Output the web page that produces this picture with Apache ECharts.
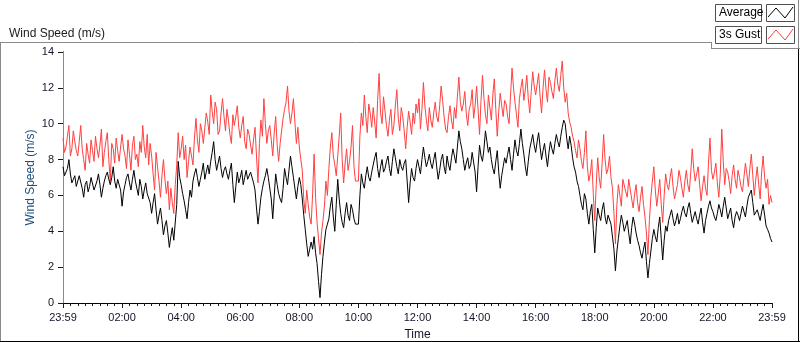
<!DOCTYPE html>
<html><head><meta charset="utf-8">
<script src="https://cdn.jsdelivr.net/npm/echarts@6/dist/echarts.min.js"></script>
<style>html,body{margin:0;padding:0;background:#fff}#c{width:800px;height:342px}</style>
</head><body><div id="c"></div>
<script>
// sampling step of the series (minutes from the start at 23:59)
const stepMinutes = 3;
const xTickLabels = ['23:59','02:00','04:00','06:00','08:00','10:00','12:00','14:00','16:00','18:00','20:00','22:00','23:59'];
const seriesNames = ['Average', '3s Gust'];

const gust = [
 9.2, 8.4, 8.7, 9.3, 9.9, 8.2, 8.6, 9.6, 9.0, 8.5,
 8.2, 9.0, 9.9, 8.6, 8.0, 7.4, 8.9, 8.3, 7.8, 9.1,
 8.5, 7.9, 9.3, 8.6, 8.1, 8.8, 9.7, 7.6, 8.4, 9.0,
 9.5, 8.0, 6.8, 8.9, 8.6, 7.8, 9.2, 8.5, 7.9, 8.7,
 9.4, 8.6, 8.2, 7.5, 9.1, 8.3, 7.4, 8.8, 9.3, 8.0,
 8.3, 7.6, 9.0, 8.4, 9.9, 8.7, 8.1, 9.4, 7.7, 8.9,
 8.2, 7.2, 6.3, 8.4, 7.6, 6.8, 5.9, 7.1, 8.0, 6.9,
 6.1, 6.8, 5.2, 6.4, 5.6, 5.0, 6.6, 7.7, 9.5, 8.1,
 8.6, 9.3, 8.0, 8.8, 7.0, 7.9, 8.7, 8.2, 7.7, 9.2,
 10.3, 9.1, 8.4, 10.0, 9.6, 8.9, 8.8, 10.6, 10.1, 9.4,
 11.6, 10.7, 10.0, 11.2, 10.8, 9.4, 9.6, 10.6, 11.4, 10.4,
 9.6, 10.8, 10.2, 9.4, 8.9, 10.5, 9.9, 10.4, 11.0, 9.8,
 9.2, 9.9, 10.4, 9.0, 8.6, 9.7, 9.4, 8.8, 8.3, 9.1,
 9.8, 8.2, 6.7, 8.9, 10.2, 9.3, 11.4, 10.0, 8.9, 9.6,
 9.9, 9.1, 8.2, 9.5, 10.4, 8.8, 7.9, 8.9, 9.6, 10.3,
 10.8, 11.2, 12.1, 10.7, 10.0, 10.6, 11.4, 10.1, 8.9, 9.8,
 8.7, 8.0, 7.4, 5.8, 5.0, 6.3, 5.5, 4.8, 4.4, 6.1,
 8.3, 5.9, 4.5, 3.6, 2.7, 3.9, 4.6, 5.4, 6.8, 6.0,
 7.5, 8.7, 9.5, 8.2, 7.7, 7.1, 8.2, 9.3, 10.6, 8.0,
 6.7, 7.8, 8.6, 7.4, 7.9, 8.7, 9.9, 7.6, 6.8, 6.8,
 6.8, 9.3, 10.6, 9.9, 11.6, 10.4, 9.5, 11.1, 10.6, 9.8,
 10.9, 10.1, 9.2, 11.3, 12.8, 10.6, 10.0, 11.5, 10.7, 9.9,
 9.3, 10.2, 10.8, 9.4, 9.9, 11.0, 11.9, 10.3, 9.6, 10.9,
 10.4, 9.6, 8.6, 9.8, 10.7, 10.1, 9.4, 10.6, 10.0, 11.1,
 10.6, 11.4, 9.7, 10.8, 12.3, 11.0, 10.2, 9.6, 10.9, 10.2,
 9.8, 10.6, 11.2, 10.4, 10.1, 11.0, 12.1, 11.3, 10.4, 9.7,
 9.5, 10.4, 11.0, 10.2, 9.7, 10.9, 10.3, 11.5, 12.6, 11.2,
 10.7, 11.1, 11.8, 10.6, 9.9, 10.8, 11.1, 11.9, 10.3, 11.0,
 12.1, 10.8, 9.4, 11.3, 12.7, 11.4, 10.5, 10.0, 11.6, 10.9,
 10.2, 11.6, 12.5, 10.8, 9.3, 10.7, 11.7, 11.0, 10.4, 11.3,
 11.1, 10.4, 10.0, 11.6, 13.1, 12.0, 11.2, 10.5, 9.8, 11.4,
 12.0, 12.5, 11.3, 11.9, 12.7, 11.4, 10.6, 11.8, 12.9, 12.1,
 11.6, 12.2, 12.8, 11.5, 10.6, 12.0, 13.0, 11.9, 11.2, 12.6,
 12.3, 11.8, 11.4, 12.4, 13.1, 12.2, 11.8, 12.7, 13.5, 12.0,
 11.2, 11.7, 10.6, 10.1, 9.8, 9.3, 9.0, 8.5, 8.1, 9.1,
 8.6, 7.9, 7.5, 8.4, 9.6, 7.6, 6.8, 7.2, 8.0, 6.1,
 4.6, 6.6, 8.1, 7.0, 6.4, 7.8, 9.4, 8.0, 7.2, 7.5,
 8.2, 7.0, 6.4, 5.0, 3.3, 5.5, 6.6, 6.0, 5.4, 6.9,
 7.0, 6.2, 5.9, 6.9, 6.8, 5.8, 5.3, 6.1, 6.6, 5.6,
 5.1, 5.9, 6.5, 5.5, 4.8, 3.9, 2.7, 4.6, 5.9, 6.8,
 7.6, 6.3, 5.4, 6.1, 6.9, 5.5, 4.5, 6.0, 7.2, 6.6,
 6.3, 7.0, 7.5, 6.5, 5.8, 6.2, 6.6, 7.4, 7.0, 6.4,
 5.9, 6.8, 7.4, 6.6, 6.2, 7.3, 8.6, 7.5, 6.8, 7.2,
 7.6, 6.6, 5.7, 6.5, 7.1, 6.4, 6.0, 7.8, 9.2, 7.4,
 6.9, 7.3, 7.8, 6.7, 5.9, 7.2, 9.7, 7.9, 6.6, 7.5,
 7.3, 6.8, 6.1, 7.1, 7.7, 6.9, 6.4, 7.4, 7.0, 6.5,
 6.2, 7.0, 7.8, 7.2, 6.5, 7.5, 8.3, 7.1, 6.0, 6.9,
 7.6, 6.6, 5.8, 7.3, 8.2, 7.0, 6.4, 6.9, 5.5, 6.0,
 5.6
];

const average = [
 7.6, 7.1, 7.0, 7.5, 8.0, 7.2, 6.7, 6.9, 7.1, 6.5,
 6.6, 7.1, 7.0, 6.4, 5.9, 6.6, 6.8, 6.2, 6.5, 7.0,
 6.9, 6.3, 6.4, 6.8, 7.2, 6.6, 5.9, 6.4, 6.8, 7.1,
 7.3, 6.9, 6.6, 7.0, 7.6, 6.8, 6.4, 6.9, 7.0, 6.3,
 5.4, 6.2, 6.6, 7.0, 7.2, 6.7, 6.3, 6.9, 7.4, 6.8,
 6.4, 6.0, 6.9, 6.5, 5.8, 6.3, 6.7, 6.1, 6.2, 5.6,
 5.0, 5.6, 6.1, 5.2, 4.4, 4.9, 5.3, 4.6, 3.8, 4.3,
 4.6, 3.9, 3.1, 3.7, 4.2, 3.5, 3.6, 5.5, 7.9, 7.0,
 6.6, 6.1, 5.7, 5.2, 4.7, 5.6, 6.3, 5.9, 6.8, 7.2,
 7.5, 7.0, 6.5, 6.9, 7.3, 7.8, 6.9, 7.3, 7.7, 7.2,
 7.9, 8.4, 9.0, 8.0, 7.4, 7.8, 8.2, 7.5, 7.0, 7.4,
 7.6, 7.2, 6.9, 7.4, 7.8, 6.6, 5.6, 6.5, 7.3, 6.7,
 7.0, 7.4, 6.6, 7.0, 7.4, 6.9, 6.8, 7.3, 7.2, 6.7,
 6.3, 5.3, 4.4, 5.1, 5.9, 6.4, 6.8, 7.1, 7.5, 7.0,
 6.9, 5.8, 4.7, 6.0, 7.2, 6.6, 6.1, 5.8, 5.6, 6.4,
 7.5, 7.0, 6.6, 7.4, 8.2, 7.6, 7.0, 6.4, 5.8, 6.5,
 7.0, 6.6, 5.8, 4.9, 4.1, 3.3, 2.6, 3.0, 3.4, 3.0,
 3.7, 2.8, 2.2, 1.2, 0.3, 1.6, 2.6, 3.4, 4.1, 4.4,
 4.7, 5.4, 5.9, 4.8, 4.0, 5.5, 6.9, 5.8, 5.0, 4.5,
 4.2, 5.0, 5.6, 4.9, 4.6, 5.5, 5.2, 4.7, 4.4, 4.4,
 4.4, 6.0, 7.2, 6.7, 6.4, 7.1, 7.6, 7.0, 6.8, 7.3,
 7.7, 8.1, 8.4, 7.5, 7.0, 7.6, 8.0, 7.3, 7.5, 7.9,
 8.2, 7.5, 7.1, 7.9, 8.6, 8.1, 7.6, 7.2, 8.0, 7.6,
 7.4, 7.8, 8.0, 6.8, 5.6, 6.7, 7.5, 7.0, 6.8, 7.5,
 8.0, 7.6, 7.2, 8.0, 8.7, 8.1, 7.6, 7.9, 8.3, 7.8,
 7.5, 8.0, 8.4, 7.6, 6.9, 7.4, 8.0, 8.3, 7.6, 7.2,
 8.2, 7.7, 7.4, 8.1, 8.6, 8.2, 7.8, 8.7, 9.6, 9.0,
 8.6, 8.0, 7.4, 7.8, 8.1, 7.5, 7.7, 8.4, 8.3, 7.3,
 6.2, 7.6, 8.8, 8.2, 7.9, 8.6, 9.6, 9.0, 8.4, 8.7,
 8.0, 7.5, 7.2, 7.9, 8.5, 7.3, 6.4, 7.1, 7.6, 8.1,
 7.8, 8.3, 8.7, 8.0, 7.4, 8.3, 9.1, 8.5, 8.2, 8.9,
 9.7, 8.9, 8.3, 7.6, 7.1, 7.9, 8.6, 9.0, 9.4, 8.8,
 8.4, 9.0, 9.5, 8.7, 8.0, 8.5, 8.9, 8.2, 7.6, 8.4,
 9.0, 8.6, 8.3, 8.9, 9.4, 9.0, 8.7, 9.3, 9.8, 10.2,
 10.0, 9.2, 8.6, 9.3, 8.8, 8.1, 7.6, 7.3, 6.8, 6.5,
 6.0, 5.5, 5.2, 6.1, 5.8, 5.0, 4.4, 5.1, 5.5, 4.1,
 2.8, 4.2, 5.3, 4.9, 4.6, 5.2, 5.6, 4.8, 4.4, 4.9,
 5.0, 4.4, 4.5, 3.0, 1.8, 2.9, 3.6, 4.3, 4.9, 4.5,
 4.0, 4.3, 4.6, 3.9, 3.3, 4.2, 4.8, 4.4, 3.9, 3.5,
 3.2, 2.8, 2.5, 3.0, 3.4, 2.3, 1.4, 2.2, 2.9, 3.6,
 4.1, 3.7, 3.4, 4.2, 4.8, 3.6, 2.4, 3.5, 4.3, 4.0,
 4.6, 4.9, 5.2, 4.7, 4.3, 4.6, 5.0, 4.4, 4.7, 5.1,
 5.4, 5.0, 4.8, 5.3, 5.6, 5.0, 4.5, 4.8, 5.1, 4.7,
 4.4, 4.9, 5.3, 4.5, 3.9, 4.6, 5.0, 5.4, 5.7, 5.3,
 5.1, 4.8, 4.6, 5.0, 5.5, 5.2, 4.8, 5.4, 5.9, 5.3,
 4.7, 5.0, 5.3, 4.6, 4.2, 4.8, 5.1, 4.9, 4.6, 5.0,
 5.4, 5.1, 4.8, 5.4, 5.9, 6.0, 6.3, 5.6, 4.9, 5.0,
 5.2, 4.9, 4.6, 5.1, 5.5, 4.9, 4.3, 4.1, 3.9, 3.6,
 3.4
];

const FONT = '"Liberation Sans", Arial, sans-serif';
const toPairs = arr => arr.map((v, i) => [i * stepMinutes, v]);

const chart = echarts.init(document.getElementById('c'), null, {renderer: 'canvas'});

function zig(x0, y0) {
  return [[x0 + 1, y0 + 13], [x0 + 9, y0 + 4], [x0 + 18, y0 + 14], [x0 + 26, y0 + 3]];
}

const option = {
  animation: false,
  backgroundColor: '#fff',
  textStyle: {fontFamily: FONT},
  title: {
    text: 'Wind Speed (m/s)', left: 4, top: 23,
    textStyle: {fontFamily: FONT, fontSize: 12, fontWeight: 'normal', color: '#1a1a1a'}
  },
  grid: {left: 63, right: 28, top: 52, bottom: 39, show: false, containLabel: false, outerBoundsMode: 'none'},
  xAxis: [{
    type: 'value', min: 0, max: 1440, interval: 120,
    axisLine: {show: true, lineStyle: {color: '#8a8a8a', width: 1}},
    axisTick: {show: true, length: 5, lineStyle: {color: '#1a1a1a'}},
    minorTick: {show: true, splitNumber: 8, length: 3, lineStyle: {color: '#1a1a1a'}},
    axisLabel: {formatter: v => xTickLabels[Math.round(v / 120)], color: '#141428', fontSize: 11, margin: 9, fontFamily: FONT},
    splitLine: {show: false},
    name: 'Time', nameLocation: 'middle', nameGap: 26, nameMoveOverlap: false,
    nameTextStyle: {fontSize: 12, color: '#141428', fontFamily: FONT}
  }, {
    type: 'value', min: 0, max: 1440, position: 'top',
    axisLine: {show: true, lineStyle: {color: '#000', width: 1}},
    axisTick: {show: false}, axisLabel: {show: false}, splitLine: {show: false}
  }],
  yAxis: [{
    type: 'value', min: 0, max: 14, interval: 2,
    axisLine: {show: true, lineStyle: {color: '#000', width: 1}},
    axisTick: {show: true, length: 5, lineStyle: {color: '#1a1a1a'}},
    axisLabel: {color: '#141428', fontSize: 11, margin: 9, fontFamily: FONT},
    splitLine: {show: false},
    name: 'Wind Speed (m/s)', nameLocation: 'middle', nameGap: 26, nameRotate: 90, nameMoveOverlap: false,
    nameTextStyle: {fontSize: 12, color: '#1f4e79', fontFamily: FONT}
  }, {
    type: 'value', min: 0, max: 14, position: 'right',
    axisLine: {show: true, lineStyle: {color: '#8a8a8a', width: 1}},
    axisTick: {show: false}, axisLabel: {show: false}, splitLine: {show: false}
  }],
  series: [{
    name: seriesNames[1], type: 'line', data: toPairs(gust), showSymbol: false, symbol: 'none',
    lineStyle: {color: '#ff4040', width: 1}, itemStyle: {color: '#ff4040'}
  }, {
    name: seriesNames[0], type: 'line', data: toPairs(average), showSymbol: false, symbol: 'none',
    lineStyle: {color: '#000', width: 1}, itemStyle: {color: '#000'}
  }],
  graphic: [
    // outer frame
    {type: 'line', shape: {x1: 0, y1: 42.5, x2: 711, y2: 42.5}, style: {stroke: '#8a8a8a', lineWidth: 1}},
    {type: 'line', shape: {x1: 0.5, y1: 42, x2: 0.5, y2: 342}, style: {stroke: '#8a8a8a', lineWidth: 1}},
    {type: 'line', shape: {x1: 0, y1: 341.5, x2: 800, y2: 341.5}, style: {stroke: '#000', lineWidth: 1}},
    {type: 'line', shape: {x1: 798.5, y1: 48, x2: 798.5, y2: 342}, style: {stroke: '#000', lineWidth: 1}},
    // legend panel
    {type: 'line', shape: {x1: 711.5, y1: 42, x2: 711.5, y2: 49}, style: {stroke: '#8a8a8a', lineWidth: 1}},
    {type: 'line', shape: {x1: 711, y1: 48.5, x2: 800, y2: 48.5}, style: {stroke: '#8a8a8a', lineWidth: 1}},
    {type: 'line', shape: {x1: 798.5, y1: 0, x2: 798.5, y2: 48}, style: {stroke: '#8a8a8a', lineWidth: 1}},
    // legend entries
    {type: 'rect', shape: {x: 715.5, y: 4.5, width: 46, height: 17}, style: {fill: '#fff', stroke: '#505050', lineWidth: 1}},
    {type: 'text', x: 719, y: 13, style: {text: seriesNames[0], font: '12px ' + FONT, fill: '#000', verticalAlign: 'middle'}},
    {type: 'rect', shape: {x: 766.5, y: 4.5, width: 28, height: 17}, style: {fill: '#fff', stroke: '#505050', lineWidth: 1}},
    {type: 'polyline', shape: {points: zig(767, 4)}, style: {stroke: '#000', lineWidth: 1, fill: null}},
    {type: 'rect', shape: {x: 715.5, y: 26.5, width: 46, height: 17}, style: {fill: '#fff', stroke: '#505050', lineWidth: 1}},
    {type: 'text', x: 719, y: 35, style: {text: seriesNames[1], font: '12px ' + FONT, fill: '#000', verticalAlign: 'middle'}},
    {type: 'rect', shape: {x: 766.5, y: 26.5, width: 28, height: 17}, style: {fill: '#fff', stroke: '#505050', lineWidth: 1}},
    {type: 'polyline', shape: {points: zig(767, 26)}, style: {stroke: '#ff4040', lineWidth: 1, fill: null}}
  ]
};
chart.setOption(option);
</script>
</body></html>
